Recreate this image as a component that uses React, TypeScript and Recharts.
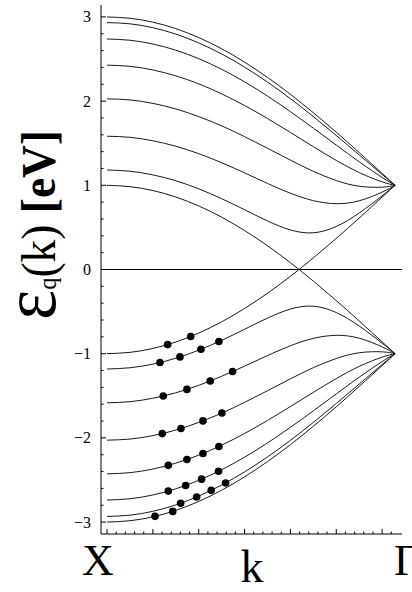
import {
  ComposedChart,
  Line,
  ReferenceLine,
  Scatter,
  XAxis,
  YAxis,
} from "recharts";

const serif = "Liberation Serif, Times New Roman, serif";

// k from the X point (0) to the Γ point (π)
const kGrid = [0, 0.25, 0.5, 0.75, 1, 1.25, 1.5, 1.75, 2, 2.25, 2.5, 2.75, 3, 3.1416];

// conduction subbands, q = 0..7 (q = 7 runs through zero at 2π/3)
const cq0 = [3, 2.984, 2.938, 2.861, 2.755, 2.622, 2.463, 2.282, 2.081, 1.862, 1.631, 1.389, 1.142, 1];
const cq1 = [2.933, 2.918, 2.872, 2.796, 2.691, 2.56, 2.404, 2.226, 2.029, 1.816, 1.592, 1.361, 1.129, 1];
const cq2 = [2.738, 2.723, 2.678, 2.605, 2.504, 2.378, 2.229, 2.06, 1.875, 1.679, 1.478, 1.279, 1.094, 1];
const cq3 = [2.427, 2.413, 2.37, 2.3, 2.205, 2.086, 1.948, 1.793, 1.628, 1.459, 1.296, 1.151, 1.041, 1];
const cq4 = [2.027, 2.014, 1.973, 1.907, 1.816, 1.706, 1.578, 1.44, 1.299, 1.166, 1.057, 0.989, 0.978, 1];
const cq5 = [1.583, 1.57, 1.529, 1.464, 1.376, 1.268, 1.148, 1.022, 0.906, 0.818, 0.782, 0.816, 0.919, 1];
const cq6 = [1.182, 1.167, 1.124, 1.054, 0.958, 0.841, 0.71, 0.577, 0.47, 0.436, 0.511, 0.671, 0.875, 1];
const cq7 = [1, 0.984, 0.938, 0.861, 0.755, 0.622, 0.463, 0.282, 0.081, -0.138, -0.369, -0.611, -0.859, -1];

// valence subbands
const vq0 = [-3, -2.984, -2.938, -2.861, -2.755, -2.622, -2.463, -2.282, -2.081, -1.862, -1.631, -1.389, -1.142, -1];
const vq1 = [-2.933, -2.918, -2.872, -2.796, -2.691, -2.56, -2.404, -2.226, -2.029, -1.816, -1.592, -1.361, -1.129, -1];
const vq2 = [-2.738, -2.723, -2.678, -2.605, -2.504, -2.378, -2.229, -2.06, -1.875, -1.679, -1.478, -1.279, -1.094, -1];
const vq3 = [-2.427, -2.413, -2.37, -2.3, -2.205, -2.086, -1.948, -1.793, -1.628, -1.459, -1.296, -1.151, -1.041, -1];
const vq4 = [-2.027, -2.014, -1.973, -1.907, -1.816, -1.706, -1.578, -1.44, -1.299, -1.166, -1.057, -0.989, -0.978, -1];
const vq5 = [-1.583, -1.57, -1.529, -1.464, -1.376, -1.268, -1.148, -1.022, -0.906, -0.818, -0.782, -0.816, -0.919, -1];
const vq6 = [-1.182, -1.167, -1.124, -1.054, -0.958, -0.841, -0.71, -0.577, -0.47, -0.436, -0.511, -0.671, -0.875, -1];
const vq7 = [-1, -0.984, -0.938, -0.861, -0.755, -0.622, -0.463, -0.282, -0.081, 0.138, 0.369, 0.611, 0.859, 1];

// sampled states on the valence subbands
const markerK = [
  0.661, 0.912,
  0.577, 0.795, 1.024, 1.22,
  0.613, 0.871, 1.125, 1.369,
  0.602, 0.806, 1.046, 1.253,
  0.668, 0.871, 1.046, 1.22,
  0.668, 0.857, 1.031, 1.216,
  0.803, 0.977, 1.136, 1.293,
  0.523, 0.716,
];
const markerE = [
  -0.892, -0.796,
  -1.105, -1.038, -0.948, -0.856,
  -1.503, -1.424, -1.324, -1.212,
  -1.949, -1.888, -1.798, -1.704,
  -2.326, -2.257, -2.185, -2.102,
  -2.632, -2.565, -2.49, -2.396,
  -2.776, -2.702, -2.623, -2.535,
  -2.932, -2.873,
];

const yLabels = [-3, -2, -1, 0, 1, 2, 3];
const yTicks = Array.from({ length: 31 }, (_, i) => Math.round((-3 + i * 0.2) * 10) / 10);
const kTicks = Array.from({ length: 32 }, (_, i) => i / 10);

const kDomain = [-0.066, 3.217];
const eDomain = [-3.1416, 3.1416];

const bands = [cq0, cq1, cq2, cq3, cq4, cq5, cq6, cq7, vq0, vq1, vq2, vq3, vq4, vq5, vq6, vq7].map(
  (vals) => kGrid.map((k, i) => ({ k, e: vals[i] }))
);
const markers = markerK.map((k, i) => ({ k, e: markerE[i] }));

const isMajorE = (v: number) => Math.abs(v - Math.round(v)) < 1e-6;
const isMajorK = (v: number) => Math.abs(v * 2 - Math.round(v * 2)) < 1e-6;

const textStyle = { fontFamily: serif };

const LeftTick = ({ x, y, payload }: any) => {
  const v = payload.value;
  const major = isMajorE(v);
  return (
    <g>
      <line x1={x} x2={x + (major ? 5 : 2.5)} y1={y} y2={y} stroke="#000" />
      {major && yLabels.includes(Math.round(v)) && (
        <text x={x - 10} y={y} dy={5.5} textAnchor="end" style={textStyle} fontSize={16} fill="#000">
          {v < 0 ? `\u2212${-Math.round(v)}` : Math.round(v)}
        </text>
      )}
    </g>
  );
};

const RightTick = ({ x, y, payload }: any) => (
  <line x1={x} x2={x - (isMajorE(payload.value) ? 5 : 2.5)} y1={y} y2={y} stroke="#000" />
);

const BottomTick = ({ x, y, payload }: any) => (
  <line x1={x} x2={x} y1={y} y2={y - (isMajorK(payload.value) ? 5 : 2.5)} stroke="#000" />
);

const TopTick = ({ x, y, payload }: any) => (
  <line x1={x} x2={x} y1={y} y2={y + (isMajorK(payload.value) ? 5 : 2.5)} stroke="#000" />
);

const EnergyTitle = () => (
  <text
    transform="translate(55 225) rotate(-90)"
    textAnchor="middle"
    style={textStyle}
    fill="#000"
    textLength={190}
    lengthAdjust="spacingAndGlyphs"
  >
    <tspan fontSize={76}>ε</tspan>
    <tspan fontSize={26} dy={1}>q</tspan>
    <tspan fontSize={48} dy={-1}>(k) </tspan>
    <tspan fontSize={48} fontWeight="bold">[eV]</tspan>
  </text>
);

const KTitle = () => (
  <g style={textStyle} fill="#000">
    <text x={98} y={575} fontSize={44} textAnchor="middle">X</text>
    <text x={252} y={582} fontSize={46} textAnchor="middle">k</text>
    <text x={394} y={575} fontSize={44}>Γ</text>
  </g>
);

const Dot = (p: any) => <circle cx={p.cx} cy={p.cy} r={3.8} fill="#000" />;

export default function App() {
  return (
    <div style={{ position: "absolute", left: 0, top: 0, background: "#fff" }}>
      <ComposedChart width={412} height={592} margin={{ top: 5, right: 10, bottom: 0, left: 0 }}>
        <XAxis
          xAxisId={0}
          dataKey="k"
          type="number"
          domain={kDomain}
          allowDataOverflow
          ticks={kTicks}
          interval={0}
          height={58}
          tickSize={0}
          tickMargin={0}
          tickLine={false}
          axisLine={{ stroke: "#000" }}
          tick={(p: any) => <BottomTick {...p} />}
          label={{ content: () => <KTitle /> }}
        />
        <XAxis
          xAxisId="top"
          orientation="top"
          dataKey="k"
          type="number"
          domain={kDomain}
          allowDataOverflow
          ticks={kTicks}
          interval={0}
          height={0}
          tickSize={0}
          tickMargin={0}
          tickLine={false}
          axisLine={{ stroke: "#000" }}
          tick={(p: any) => <TopTick {...p} />}
        />
        <YAxis
          yAxisId={0}
          type="number"
          domain={eDomain}
          allowDataOverflow
          ticks={yTicks}
          interval={0}
          width={101}
          tickSize={0}
          tickMargin={0}
          tickLine={false}
          axisLine={{ stroke: "#000" }}
          tick={(p: any) => <LeftTick {...p} />}
          label={{ content: () => <EnergyTitle /> }}
        />
        <YAxis
          yAxisId="right"
          orientation="right"
          type="number"
          domain={eDomain}
          allowDataOverflow
          ticks={yTicks}
          interval={0}
          width={0}
          tickSize={0}
          tickMargin={0}
          tickLine={false}
          axisLine={{ stroke: "#000" }}
          tick={(p: any) => <RightTick {...p} />}
        />
        <ReferenceLine y={0} stroke="#000" strokeWidth={1} />
        {bands.map((data, i) => (
          <Line
            key={i}
            data={data}
            dataKey="e"
            type="natural"
            stroke="#1a1a1a"
            strokeWidth={1}
            dot={false}
            activeDot={false}
            isAnimationActive={false}
          />
        ))}
        <Scatter data={markers} dataKey="e" shape={Dot} isAnimationActive={false} />
      </ComposedChart>
    </div>
  );
}
